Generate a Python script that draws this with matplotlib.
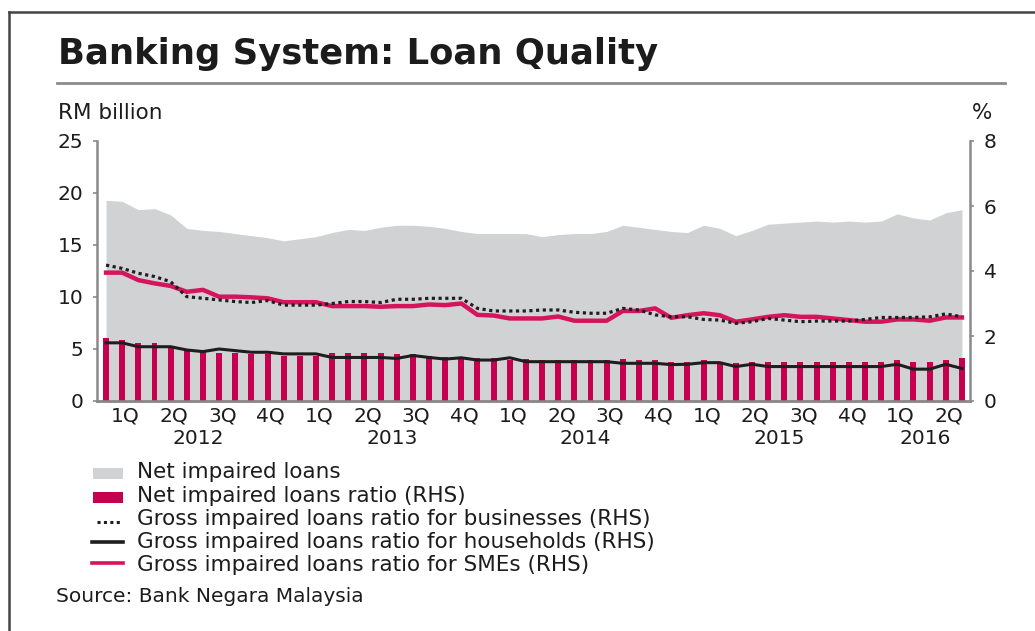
import matplotlib
matplotlib.use("Agg")
import matplotlib.pyplot as plt
from matplotlib.patches import Rectangle
from matplotlib.lines import Line2D
import numpy as np

# the source chart uses a wide sans face, DejaVu Sans is the closest here
plt.rcParams["font.family"] = ["DejaVu Sans"]

# Monthly data, Jan 2012 - Jun 2016
net_impaired_loans = [19.3, 19.2, 18.4, 18.5, 17.9, 16.6, 16.4, 16.3, 16.1, 15.9, 15.7, 15.4,
                      15.6, 15.8, 16.2, 16.5, 16.4, 16.7, 16.9, 16.9, 16.8, 16.6, 16.3, 16.1,
                      16.1, 16.1, 16.1, 15.8, 16.0, 16.1, 16.1, 16.3, 16.9, 16.7, 16.5, 16.3,
                      16.2, 16.9, 16.6, 15.9, 16.4, 17.0, 17.1, 17.2, 17.3, 17.2, 17.3, 17.2,
                      17.3, 18.0, 17.6, 17.4, 18.1, 18.4]

net_impaired_ratio = [1.93, 1.88, 1.77, 1.77, 1.64, 1.57, 1.52, 1.49, 1.49, 1.45, 1.45, 1.40,
                      1.40, 1.40, 1.47, 1.47, 1.47, 1.47, 1.45, 1.45, 1.40, 1.36, 1.36, 1.31,
                      1.31, 1.26, 1.28, 1.26, 1.26, 1.26, 1.26, 1.26, 1.28, 1.26, 1.26, 1.21,
                      1.21, 1.26, 1.21, 1.16, 1.21, 1.21, 1.21, 1.21, 1.21, 1.21, 1.21, 1.21,
                      1.21, 1.26, 1.21, 1.21, 1.26, 1.31]

gil_business = [4.18, 4.08, 3.93, 3.83, 3.67, 3.21, 3.16, 3.11, 3.06, 3.03, 3.09, 2.95,
                2.95, 2.95, 3.00, 3.06, 3.06, 3.03, 3.13, 3.13, 3.16, 3.16, 3.16, 2.85,
                2.77, 2.77, 2.77, 2.80, 2.80, 2.73, 2.70, 2.70, 2.85, 2.80, 2.65, 2.59,
                2.59, 2.51, 2.49, 2.39, 2.44, 2.54, 2.49, 2.44, 2.46, 2.46, 2.46, 2.51,
                2.57, 2.57, 2.57, 2.59, 2.68, 2.59]

gil_households = [1.79, 1.79, 1.67, 1.67, 1.67, 1.57, 1.52, 1.60, 1.55, 1.50, 1.50, 1.45,
                  1.45, 1.45, 1.34, 1.34, 1.34, 1.34, 1.31, 1.40, 1.34, 1.29, 1.33, 1.26,
                  1.26, 1.33, 1.21, 1.21, 1.21, 1.21, 1.21, 1.21, 1.16, 1.16, 1.16, 1.12,
                  1.13, 1.18, 1.18, 1.06, 1.13, 1.06, 1.06, 1.06, 1.06, 1.06, 1.06, 1.06,
                  1.06, 1.13, 0.98, 0.98, 1.13, 1.00]

gil_smes = [3.95, 3.95, 3.72, 3.62, 3.54, 3.36, 3.42, 3.21, 3.21, 3.19, 3.16, 3.04,
            3.04, 3.04, 2.92, 2.92, 2.92, 2.90, 2.92, 2.92, 2.97, 2.95, 3.00, 2.65,
            2.63, 2.54, 2.54, 2.54, 2.60, 2.47, 2.47, 2.47, 2.77, 2.77, 2.85, 2.56,
            2.64, 2.70, 2.64, 2.44, 2.51, 2.59, 2.64, 2.59, 2.59, 2.54, 2.49, 2.44,
            2.44, 2.51, 2.51, 2.47, 2.57, 2.57]

quarters = ["1Q", "2Q", "3Q", "4Q"]
years = ["2012", "2013", "2014", "2015", "2016"]

GREY = "#d1d2d4"
CRIMSON = "#c5004f"
PINK = "#d5145c"
TXT = "#1c1c1c"
AXC = "#8a8a8a"
FS = 14.5
FS_LEG = 15.5

fig = plt.figure(figsize=(10.35, 6.31), dpi=100)
W, H = 1035, 631

ax = fig.add_axes([97 / W, 1 - 401 / H, (970 - 97) / W, (401 - 141) / H])
ax2 = ax.twinx()

x = np.arange(len(net_impaired_loans))
ax.fill_between(x, net_impaired_loans, color=GREY, lw=0, zorder=1)
ax.set_ylim(0, 25)
ax.set_yticks([0, 5, 10, 15, 20, 25])
ax.set_xlim(-0.56, 53.5)

ax2.bar(x, net_impaired_ratio, width=0.37, color=CRIMSON, zorder=2)
ax2.plot(x, gil_business, color="#1e1e1e", lw=2.3, linestyle=(0, (1.0, 1.1)), zorder=4)
ax2.plot(x, gil_households, color="#1e1e1e", lw=2.2, zorder=4)
ax2.plot(x, gil_smes, color=PINK, lw=3.2, zorder=3)
ax2.set_ylim(0, 8)
ax2.set_yticks([0, 2, 4, 6, 8])

for a in (ax, ax2):
    a.spines["top"].set_visible(False)
    for s in ("left", "right", "bottom"):
        a.spines[s].set_color(AXC)
        a.spines[s].set_linewidth(1.8)
    a.tick_params(axis="y", length=3, width=1.2, color=AXC, labelsize=FS,
                  labelcolor=TXT, pad=7)
    a.tick_params(axis="x", length=0)
ax2.spines["left"].set_visible(False)
ax.spines["right"].set_visible(False)

# quarter and year labels
n_q = len(net_impaired_loans) // 3
qpos = [3 * k + 1.2 for k in range(n_q)]
ax.set_xticks(qpos)
ax.set_xticklabels([quarters[k % 4] for k in range(n_q)], fontsize=FS, color=TXT)
ax.tick_params(axis="x", pad=4)
for i, yr in enumerate(years):
    ps = qpos[4 * i: 4 * i + 4]
    ax.text(np.mean(ps), -0.145, yr, transform=ax.get_xaxis_transform(),
            ha="center", va="center", fontsize=FS, color=TXT)

# title, units
fig.text(58 / W, 1 - 54 / H, "Banking System: Loan Quality", fontsize=25.5,
         fontweight="bold", color=TXT, ha="left", va="center")
fig.text(58 / W, 1 - 113 / H, "RM billion", fontsize=FS_LEG, color=TXT, ha="left", va="center")
fig.text(982 / W, 1 - 113 / H, "%", fontsize=FS_LEG, color=TXT, ha="center", va="center")

# frame and separator
fig.add_artist(Line2D([9 / W, 9 / W], [0, 1 - 12 / H], transform=fig.transFigure,
                      color="#444444", lw=1.8))
fig.add_artist(Line2D([9 / W, 1], [1 - 12 / H, 1 - 12 / H], transform=fig.transFigure,
                      color="#444444", lw=1.8))
fig.add_artist(Line2D([57 / W, 1005 / W], [1 - 83 / H, 1 - 83 / H], transform=fig.transFigure,
                      color="#8c8c8c", lw=2))

# legend
labels = ["Net impaired loans",
          "Net impaired loans ratio (RHS)",
          "Gross impaired loans ratio for businesses (RHS)",
          "Gross impaired loans ratio for households (RHS)",
          "Gross impaired loans ratio for SMEs (RHS)"]
rows = [472, 496, 519, 542, 565]
for lab, ry in zip(labels, rows):
    fig.text(137 / W, 1 - ry / H, lab, fontsize=FS_LEG, color=TXT, ha="left", va="center")
fig.add_artist(Rectangle((93 / W, 1 - 479 / H), 30 / W, 11 / H, transform=fig.transFigure,
                         color=GREY, lw=0))
fig.add_artist(Rectangle((93 / W, 1 - 503 / H), 30 / W, 11 / H, transform=fig.transFigure,
                         color=CRIMSON, lw=0))
fig.add_artist(Line2D([97 / W, 121 / W], [1 - 522 / H] * 2, transform=fig.transFigure,
                      color="#1e1e1e", lw=2.2, linestyle=(0, (1.0, 1.1))))
fig.add_artist(Line2D([92 / W, 123 / W], [1 - 542 / H] * 2, transform=fig.transFigure,
                      color="#1e1e1e", lw=2.6))
fig.add_artist(Line2D([92 / W, 123 / W], [1 - 563 / H] * 2, transform=fig.transFigure,
                      color=PINK, lw=2.6))

fig.text(56 / W, 1 - 597 / H, "Source: Bank Negara Malaysia", fontsize=14.5, color=TXT,
         ha="left", va="center")

fig.savefig("out.png", dpi=100)
